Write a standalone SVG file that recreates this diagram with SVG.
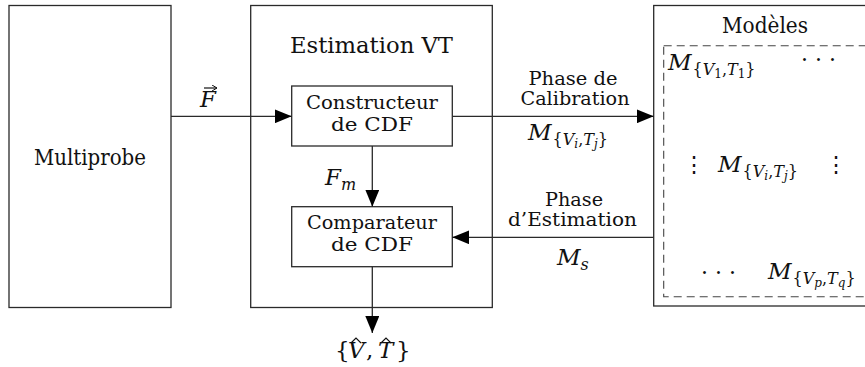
<svg xmlns="http://www.w3.org/2000/svg" width="865" height="367" viewBox="0 0 865 367">
<style>
.box{fill:none;stroke:#2a2a2a;stroke-width:1.3}
.dash{fill:none;stroke:#444;stroke-width:1.1;stroke-dasharray:8 5}
.con{stroke:#2a2a2a;stroke-width:1.3;fill:none}
text{fill:#111;font-size:22px;font-family:'DejaVu Serif','Liberation Serif',serif}
.c{text-anchor:middle}
.two{font-size:19px}
.it{font-style:italic}
.up{font-style:normal}
.m{font-size:23px}
.s1{font-size:16px}
.s2{font-size:12px}
.acc{stroke:#111;stroke-width:1.2;fill:none}
</style>
<defs>
<marker id="ah" markerUnits="userSpaceOnUse" markerWidth="18" markerHeight="14" refX="17" refY="7" orient="auto">
<path d="M0,0 L17,7 L0,14 Z" fill="#000"/>
</marker>
<marker id="sa" markerUnits="userSpaceOnUse" markerWidth="6" markerHeight="6" refX="5" refY="3" orient="auto">
<path d="M0,0 L5,3 L0,6" fill="none" stroke="#111" stroke-width="1"/>
</marker>
</defs>

<g id="multiprobe">
<rect class="box" x="9" y="5.5" width="162" height="302"/>
<text class="c" x="90" y="165" textLength="112" lengthAdjust="spacingAndGlyphs">Multiprobe</text>
</g>

<g id="estimation">
<rect class="box" x="250.7" y="5.5" width="241.6" height="302"/>
<text class="c" x="371.5" y="53" textLength="163" lengthAdjust="spacingAndGlyphs">Estimation VT</text>
</g>

<g id="constructeur">
<rect class="box" x="291.7" y="86" width="160.6" height="60"/>
<text class="c two" x="372" y="109" textLength="132" lengthAdjust="spacingAndGlyphs">Constructeur</text>
<text class="c two" x="372" y="131" textLength="82" lengthAdjust="spacingAndGlyphs">de CDF</text>
</g>

<g id="comparateur">
<rect class="box" x="291.7" y="206.7" width="160.6" height="60"/>
<text class="c two" x="372" y="229" textLength="130" lengthAdjust="spacingAndGlyphs">Comparateur</text>
<text class="c two" x="372" y="251" textLength="82" lengthAdjust="spacingAndGlyphs">de CDF</text>
</g>

<g id="modeles">
<rect class="box" x="653.7" y="5.5" width="220" height="300.5"/>
<text class="c" x="765" y="33" textLength="86" lengthAdjust="spacingAndGlyphs">Modèles</text>
<rect class="dash" x="663.7" y="45.7" width="215" height="251"/>
<text class="it m" x="668" y="70">M<tspan class="s1 up" dy="5" dx="1">{</tspan><tspan class="s1">V</tspan><tspan class="s2 up" dy="3">1</tspan><tspan class="s1 up" dy="-3">,</tspan><tspan class="s1">T</tspan><tspan class="s2 up" dy="3">1</tspan><tspan class="s1 up" dy="-3">}</tspan></text>
<text class="up" x="801" y="67">· · ·</text>
<text class="up c" x="694" y="172">⋮</text>
<text class="it m" x="718" y="172">M<tspan class="s1 up" dy="5" dx="1">{</tspan><tspan class="s1">V</tspan><tspan class="s2" dy="3">i</tspan><tspan class="s1 up" dy="-3">,</tspan><tspan class="s1">T</tspan><tspan class="s2" dy="3">j</tspan><tspan class="s1 up" dy="-3">}</tspan></text>
<text class="up c" x="836" y="172">⋮</text>
<text class="up" x="701" y="280">· · ·</text>
<text class="it m" x="768" y="279">M<tspan class="s1 up" dy="5" dx="1">{</tspan><tspan class="s1">V</tspan><tspan class="s2" dy="3">p</tspan><tspan class="s1 up" dy="-3">,</tspan><tspan class="s1">T</tspan><tspan class="s2" dy="3">q</tspan><tspan class="s1 up" dy="-3">}</tspan></text>
</g>

<g id="connectors">
<line class="con" x1="171" y1="116.3" x2="291.7" y2="116.3" marker-end="url(#ah)"/>
<line class="con" x1="452.3" y1="116.3" x2="653.7" y2="116.3" marker-end="url(#ah)"/>
<line class="con" x1="653.7" y1="237.3" x2="452.3" y2="237.3" marker-end="url(#ah)"/>
<line class="con" x1="372.3" y1="146" x2="372.3" y2="206.7" marker-end="url(#ah)"/>
<line class="con" x1="372.3" y1="266.7" x2="372.3" y2="333" marker-end="url(#ah)"/>
</g>

<g id="labels">
<text class="it m" x="200" y="107">F</text>
<line class="acc" x1="204" y1="88" x2="217" y2="88" marker-end="url(#sa)"/>
<text class="it m" x="325" y="185">F<tspan class="s1" dy="5">m</tspan></text>
<text class="c two" x="573" y="85" textLength="89" lengthAdjust="spacingAndGlyphs">Phase de</text>
<text class="c two" x="575" y="105" textLength="109" lengthAdjust="spacingAndGlyphs">Calibration</text>
<text class="it m" x="528" y="140">M<tspan class="s1 up" dy="5" dx="1">{</tspan><tspan class="s1">V</tspan><tspan class="s2" dy="3">i</tspan><tspan class="s1 up" dy="-3">,</tspan><tspan class="s1">T</tspan><tspan class="s2" dy="3">j</tspan><tspan class="s1 up" dy="-3">}</tspan></text>
<text class="c two" x="574" y="206" textLength="58" lengthAdjust="spacingAndGlyphs">Phase</text>
<text class="c two" x="572.5" y="226" textLength="129" lengthAdjust="spacingAndGlyphs">d’Estimation</text>
<text class="it m" x="557" y="265">M<tspan class="s1" dy="5">s</tspan></text>
<text class="m" x="335" y="358"><tspan class="up">{</tspan><tspan class="it" x="348">V</tspan><tspan class="up" x="366">,</tspan><tspan class="it" x="378">T</tspan><tspan class="up" x="396">}</tspan></text>
<path class="acc" d="M351,343 L356,338 L361,343"/>
<path class="acc" d="M381,343 L386,338 L391,343"/>
</g>
</svg>
